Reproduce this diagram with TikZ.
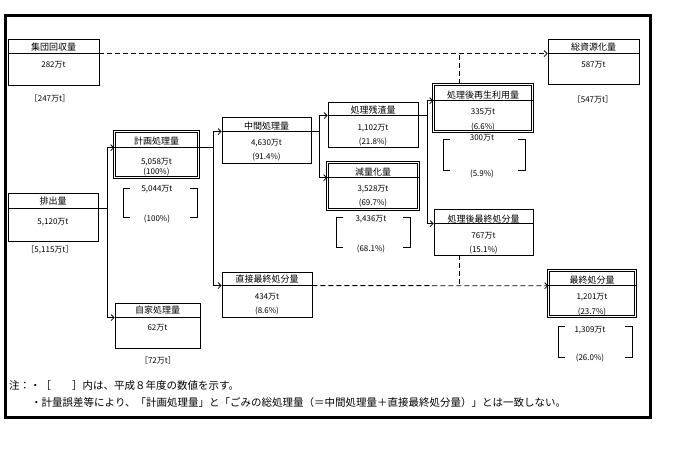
\documentclass[tikz,border=0pt]{standalone}
\usepackage{fontspec}
\setmainfont{Noto Sans CJK JP}
\usetikzlibrary{arrows.meta}

\tikzset{
  flowbox/.style={draw,line width=0.8pt,inner sep=0pt},
  dblbox/.style={draw,double,double distance=1.6pt,line width=0.6pt,inner sep=0pt},
  ttl/.style={font=\fontsize{9}{9}\selectfont,inner sep=0pt},
  val/.style={font=\fontsize{8}{8}\selectfont,inner sep=0pt},
  note/.style={font=\fontsize{10.5}{11}\selectfont,inner sep=0pt,anchor=west},
  wire/.style={line width=0.8pt},
  flow/.style={line width=0.8pt,-{Straight Barb[length=3pt,width=6pt]}},
  dwire/.style={line width=0.8pt,dash pattern=on 5pt off 3pt},
  dflow/.style={dwire,-{Straight Barb[length=3pt,width=6pt]}}
}

% box: style, name, centre x, centre y, width, height, header offset
\newcommand{\flowbox}[7]{%
  \node[#1,minimum width=#5pt,minimum height=#6pt] (#2) at (#3,#4) {};
  \draw[wire] ([yshift=-#7pt]#2.north west) coordinate (#2-hl)
    -- ([yshift=-#7pt]#2.north east) coordinate (#2-hr);
}
% square brackets round the previous year's values: x1, y1, x2, y2
\newcommand{\prevbracket}[4]{%
  \draw[wire] (#1+7,#2) -- (#1,#2) -- (#1,#4) -- (#1+7,#4);
  \draw[wire] (#3-7,#2) -- (#3,#2) -- (#3,#4) -- (#3-7,#4);
}

\begin{document}
\begin{tikzpicture}[x=1pt,y=-1pt]
  \useasboundingbox (0,0) rectangle (673,457);
  \draw[line width=3pt] (5,15.5) rectangle (650.5,417.5);

  % --- boxes
  \flowbox{flowbox}{shudan}{53.5}{62}{91}{46}{15}
  \flowbox{flowbox}{haishutsu}{53}{217}{90}{48}{16}
  \flowbox{dblbox}{keikaku}{156.5}{154.5}{84}{46}{16.5}
  \flowbox{flowbox}{jika}{157.5}{325.5}{85}{45}{15}
  \flowbox{flowbox}{chukan}{266.5}{140}{89}{46}{15}
  \flowbox{flowbox}{choku}{267}{294.5}{90}{45}{14}
  \flowbox{flowbox}{zansa}{373}{124.5}{90}{45}{14}
  \flowbox{dblbox}{genryo}{373}{186}{91}{47}{15.5}
  \flowbox{dblbox}{saisei}{483}{108}{99}{47}{16.5}
  \flowbox{flowbox}{shobun}{483.5}{232}{99}{46}{15}
  \flowbox{flowbox}{soshigen}{593.5}{61.5}{91}{45}{15}
  \flowbox{dblbox}{saishu}{592}{293.5}{87}{46}{15.5}

  % --- texts
  \node[ttl] (shudan-t) at (53.5,47) {集団回収量};
  \node[val] (shudan-v) at (53.5,65) {282万t};
  \node[val] (shudan-p) at (50,98) {［247万t］};
  \node[ttl] (haishutsu-t) at (53,201) {排出量};
  \node[val] (haishutsu-v) at (53,222) {5,120万t};
  \node[val] (haishutsu-p) at (50,250) {［5,115万t］};
  \node[ttl] (keikaku-t) at (156.5,141) {計画処理量};
  \node[val] (keikaku-v) at (156.5,162) {5,058万t};
  \node[val] (keikaku-r) at (156.5,172) {(100\%)};
  \node[ttl] (jika-t) at (157.5,310) {自家処理量};
  \node[val] (jika-v) at (157.5,328) {62万t};
  \node[val] (jika-p) at (158,360) {［72万t］};
  \node[ttl] (chukan-t) at (266.5,126) {中間処理量};
  \node[val] (chukan-v) at (266.5,143) {4,630万t};
  \node[val] (chukan-r) at (266.5,157) {(91.4\%)};
  \node[ttl] (choku-t) at (267,279) {直接最終処分量};
  \node[val] (choku-v) at (267,297) {434万t};
  \node[val] (choku-r) at (267,311) {(8.6\%)};
  \node[ttl] (zansa-t) at (373,110) {処理残渣量};
  \node[val] (zansa-v) at (373,128) {1,102万t};
  \node[val] (zansa-r) at (373,142) {(21.8\%)};
  \node[ttl] (genryo-t) at (373,172) {減量化量};
  \node[val] (genryo-v) at (373,189) {3,528万t};
  \node[val] (genryo-r) at (373,203) {(69.7\%)};
  \node[ttl] (saisei-t) at (483,95) {処理後再生利用量};
  \node[val] (saisei-v) at (483,112) {335万t};
  \node[val] (saisei-r) at (483,127) {(6.6\%)};
  \node[ttl] (shobun-t) at (483.5,219) {処理後最終処分量};
  \node[val] (shobun-v) at (483.5,236) {767万t};
  \node[val] (shobun-r) at (483.5,250) {(15.1\%)};
  \node[ttl] (soshigen-t) at (593.5,47) {総資源化量};
  \node[val] (soshigen-v) at (593.5,65) {587万t};
  \node[val] (soshigen-p) at (593,99) {［547万t］};
  \node[ttl] (saishu-t) at (592,280) {最終処分量};
  \node[val] (saishu-v) at (592,297) {1,201万t};
  \node[val] (saishu-r) at (592,312) {(23.7\%)};

  % --- previous year in brackets
  \prevbracket{123}{188}{197}{217}
  \node[val] (keikaku-pv) at (157,189) {5,044万t};
  \node[val] (keikaku-pr) at (157,219) {(100\%)};
  \prevbracket{336}{217}{410}{247}
  \node[val] (genryo-pv) at (371,219) {3,436万t};
  \node[val] (genryo-pr) at (371,249) {(68.1\%)};
  \prevbracket{443}{139}{525}{170}
  \node[val] (saisei-pv) at (482,138) {300万t};
  \node[val] (saisei-pr) at (482,174) {(5.9\%)};
  \prevbracket{558}{326}{632}{357}
  \node[val] (saishu-pv) at (590,330) {1,309万t};
  \node[val] (saishu-pr) at (590,358) {(26.0\%)};

  % --- flows
  \draw[wire] (haishutsu-hr) -- ++(9,0) coordinate (splitA);
  \draw[flow] (splitA) |- (keikaku-hl);
  \draw[flow] (splitA) |- (jika-hl);
  \draw[wire] (keikaku-hr) -- ++(14.5,0) coordinate (splitB);
  \draw[flow] (splitB) |- (chukan-hl);
  \draw[flow] (splitB) |- (choku-hl);
  \draw[wire] (chukan-hr) -- ++(8,0) coordinate (splitC);
  \draw[flow] (splitC) |- (zansa-hl);
  \draw[flow] (splitC) |- (genryo-hl);
  \draw[wire] (zansa-hr) -- ++(9,0) coordinate (splitD);
  \draw[flow] (splitD) |- (saisei-hl);
  \draw[flow] (splitD) |- (shobun-hl);

  % --- dashed: resources and final disposal
  \draw[dflow] (shudan-hr) -- (soshigen-hl);
  \coordinate (saisei-up) at ([xshift=-24pt]saisei.north);
  \draw[dwire] (saisei-up) -- (saisei-up |- shudan-hr);
  \draw[dflow] (choku-hr) -- (saishu-hl);
  \coordinate (shobun-dn) at ([xshift=-24.5pt]shobun.south);
  \draw[dwire] (shobun-dn) -- (shobun-dn |- choku-hr);

  % --- notes
  \node[note] (note1) at (9,386) {注：・［　　］内は、平成８年度の数値を示す。};
  \node[note] (note2) at (31,403) {・計量誤差等により、「計画処理量」と「ごみの総処理量（＝中間処理量＋直接最終処分量）」とは一致しない。};
\end{tikzpicture}
\end{document}
